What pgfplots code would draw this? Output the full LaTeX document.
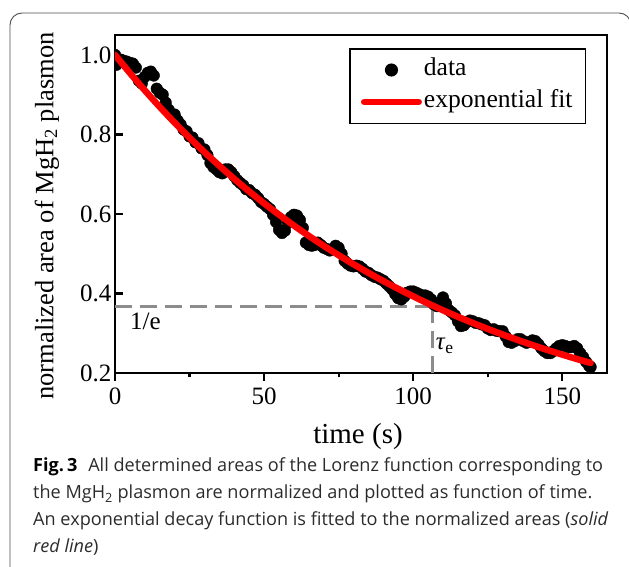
\documentclass[border=0pt]{standalone}
\usepackage{fontspec}
\setmainfont{Liberation Serif}
\newfontfamily\capfont{Open Sans}
\usepackage{pgfplots}
\pgfplotsset{compat=1.18}

\definecolor{fitred}{HTML}{FF0000}
\definecolor{dashgray}{HTML}{8C8C8C}
\definecolor{framegray}{HTML}{4D4D4D}
\definecolor{captxt}{HTML}{2B2B2B}

\pgfplotsset{
  dotlegend/.style={legend image code/.code={\draw[mark repeat=2,mark phase=2,##1] plot coordinates {(0pt,0pt) (30.5pt,0pt) (61pt,0pt)};}},
  linelegend/.style={legend image code/.code={\draw[##1] (3.25pt,0pt) -- (57.75pt,0pt);}},
}

\begin{document}
\begin{tikzpicture}[x=1pt,y=1pt]
\useasboundingbox (0,0) rectangle (629,567);
% rounded figure frame, cut by the page edges
\draw[framegray, line width=0.9pt, rounded corners=12pt] (10,-30) -- (10,554) -- (631,554) -- (631,-30);

\begin{axis}[
  at={(115pt,194pt)}, anchor=south west,
  scale only axis, width=492pt, height=338pt,
  xmin=0, xmax=165, ymin=0.2, ymax=1.05,
  xtick={0,50,100,150}, minor xtick={25,75,125},
  ytick={0.2,0.4,0.6,0.8,1.0},
  tick pos=left,
  xtick align=outside, ytick align=inside,
  major tick length=8pt, minor tick length=4.5pt,
  tick style={black, line width=2.2pt},
  axis line style={line width=2.5pt},
  /pgf/number format/assume math mode=true,
  tick label style={font=\fontsize{25}{25}\selectfont},
  xticklabel style={yshift=-3pt},
  yticklabel style={/pgf/number format/.cd, fixed, fixed zerofill, precision=1},
  clip=true, clip marker paths=true,
  legend style={at={(0.476,0.9615)}, anchor=north west, draw=black, line width=1.5pt,
    font=\fontsize{25.6}{25.6}\selectfont, inner xsep=11pt, inner ysep=8pt, row sep=5.5pt,
    nodes={inner sep=2pt, text height=17pt, text depth=5.5pt},
    cells={anchor=west}, /tikz/every even column/.append style={column sep=4pt}},
]
% 1/e guide lines (beneath the data)
\addplot[dashgray, line width=3pt, dash pattern=on 17pt off 8pt, forget plot]
  coordinates {(0,0.368) (106.5,0.368)};
\addplot[dashgray, line width=3pt, dash pattern=on 17pt off 8pt, forget plot]
  coordinates {(106.5,0.2) (106.5,0.368)};

\addplot[only marks, mark=*, mark size=5.8pt, black, mark options={fill=black}, dotlegend]
coordinates {
(0,1.000) (0.5,0.975) (1,0.982) (2,0.988) (3,0.985) (4,0.983) (5,0.980) (6,0.978) (7,0.968)
(8,0.935) (9,0.928) (10,0.945) (11,0.955) (12,0.958) (13,0.948) (14,0.915) (15,0.905)
(16,0.900) (17,0.880) (18,0.862) (19,0.848) (20,0.850) (21,0.835) (22,0.825) (23,0.812)
(24,0.808) (25,0.795) (26,0.792) (27,0.780) (28,0.778) (29,0.765) (30,0.762) (31,0.748)
(32,0.728) (33,0.718) (34,0.712) (35,0.705) (36,0.702) (37,0.712) (38,0.712) (39,0.705)
(40,0.695) (41,0.685) (42,0.678) (43,0.672) (44,0.662) (45,0.660) (46,0.652) (47,0.648)
(48,0.640) (49,0.630) (50,0.625) (51,0.618) (52,0.612) (53,0.598) (54,0.580) (55,0.560)
(56,0.552) (57,0.558) (58,0.578) (59,0.592) (60,0.598) (61,0.596) (62,0.585) (63,0.565)
(64,0.528) (65,0.522) (66,0.520) (67,0.522) (68,0.528) (69,0.522) (70,0.515) (71,0.512)
(72,0.508) (73,0.512) (74,0.520) (75,0.515) (76,0.500) (77,0.482) (78,0.475) (79,0.470)
(80,0.468) (81,0.470) (82,0.468) (83,0.462) (84,0.455) (85,0.452) (86,0.446) (87,0.442)
(88,0.440) (89,0.436) (90,0.432) (91,0.425) (92,0.418) (93,0.410) (94,0.398) (95,0.388)
(96,0.385) (97,0.392) (98,0.402) (99,0.405) (100,0.405) (101,0.402) (102,0.398) (103,0.395)
(104,0.395) (105,0.392) (106,0.385) (107,0.372) (108,0.368) (109,0.378) (110,0.390) (111,0.375)
(112,0.358) (113,0.352) (114,0.345) (115,0.330) (116,0.318) (117,0.320) (118,0.328) (119,0.332)
(120,0.330) (121,0.326) (122,0.325) (123,0.322) (124,0.320) (125,0.312) (126,0.308) (127,0.310)
(128,0.306) (129,0.305) (130,0.305) (131,0.292) (132,0.278) (133,0.276) (134,0.280) (135,0.285)
(136,0.285) (137,0.280) (138,0.276) (139,0.278) (140,0.282) (141,0.280) (142,0.272) (143,0.262)
(144,0.255) (145,0.250) (146,0.250) (147,0.255) (148,0.262) (149,0.268) (150,0.270) (151,0.268)
(152,0.265) (153,0.265) (154,0.268) (155,0.262) (156,0.250) (157,0.240) (158,0.228) (159,0.218)
(159.5,0.215)
};
\addlegendentry{data}
\addplot[fitred, line width=6.5pt, line cap=round, smooth, linelegend]
coordinates {
(0,1.000) (5,0.9544) (10,0.9108) (15,0.8692) (20,0.8295) (25,0.7916)
(30,0.7555) (35,0.7210) (40,0.6881) (45,0.6567) (50,0.6267) (55,0.5981)
(60,0.5708) (65,0.5448) (70,0.5199) (75,0.4962) (80,0.4735) (85,0.4519)
(90,0.4312) (95,0.4116) (100,0.3928) (105,0.3748) (110,0.3577) (115,0.3414)
(120,0.3258) (125,0.3109) (130,0.2967) (135,0.2832) (140,0.2703) (145,0.2580)
(150,0.2462) (155,0.2349) (159.5,0.2253)
};
\addlegendentry{exponential fit}
\node[anchor=west, font=\fontsize{25}{25}\selectfont, inner sep=0pt] at (axis cs:5,0.329) {1/e};
\node[anchor=west, font=\fontsize{25}{25}\selectfont, inner sep=0pt] at (axis cs:107.5,0.268) {\textit{τ}\textsubscript{e}};
\end{axis}

\node[rotate=90, font=\fontsize{26.5}{26.5}\selectfont] at (47,351) {normalized area of MgH\textsubscript{2} plasmon};
\node[font=\fontsize{29}{29}\selectfont] at (358,130) {time (s)};

% caption
\begin{scope}[every node/.style={anchor=base west, inner sep=0pt, text=captxt, font=\capfont\fontsize{18.1}{18.1}\selectfont}]
\node at (33,95) {\textbf{\textcolor{black}{Fig.\,3}}\hspace{0.6em}All determined areas of the Lorenz function corresponding to};
\node at (33,68) {the MgH\textsubscript{2} plasmon are normalized and plotted as function of time.};
\node at (33,41) {An exponential decay function is fitted to the normalized areas (\textit{solid}};
\node at (33,14.5) {\textit{red line})};
\end{scope}
\end{tikzpicture}
\end{document}
